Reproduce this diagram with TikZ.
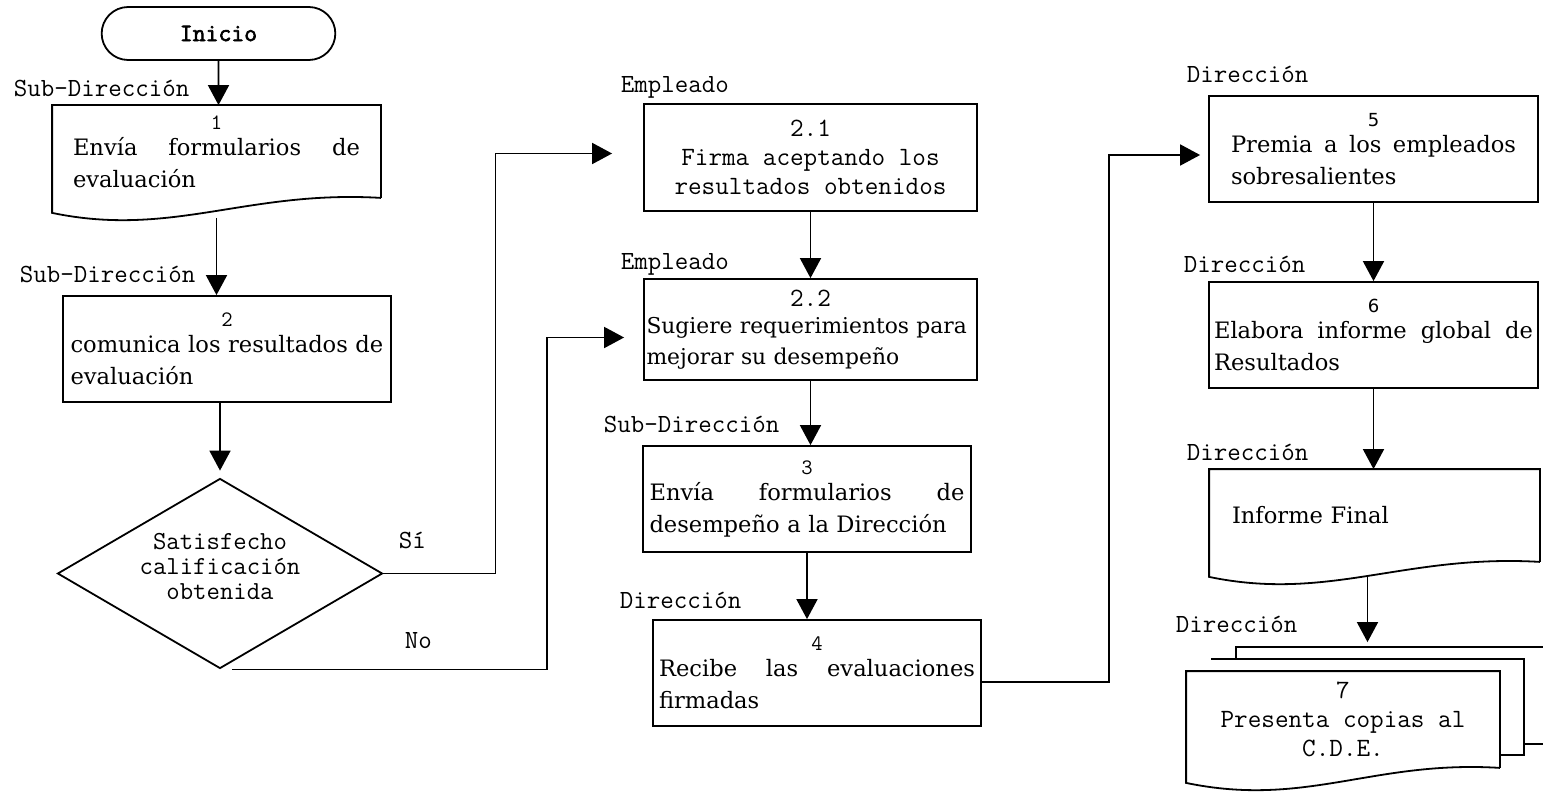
\documentclass[tikz,border=0pt]{standalone}
\usepackage{fontspec}
\setmainfont{DejaVu Serif}
\newfontfamily\sansdig{DejaVu Sans}
\newfontfamily\negrita{Latin Modern Mono}[FakeBold=2.5]
\usetikzlibrary{arrows.meta,shapes.geometric,shapes.misc,calc}

% numero de paso
\newcommand\numpaso{\ttfamily\fontsize{11}{12}\selectfont}
% contorno de documento (borde inferior ondulado)
\newcommand\contornodoc[1]{%
  \draw (#1.south east) -- (#1.north east) -- (#1.north west)
    -- ($(#1.south west)+(0,15)$)
    .. controls ($(#1.south west)+(120,40)$) and ($(#1.south)+(30,-8)$) .. (#1.south east);}

\begin{document}
\begin{tikzpicture}[x=0.5pt,y=-0.5pt,line width=0.9pt,
    caja/.style={draw,rectangle,minimum height=53pt,inner xsep=2pt,align=left,
      font=\fontsize{11.3}{16}\selectfont},
    doc/.style={rectangle,minimum height=45.5pt,inner xsep=2pt,align=left,
      font=\fontsize{11.3}{16}\selectfont},
    mono/.style={font=\ttfamily\fontsize{13.2}{14.5}\selectfont},
    rol/.style={anchor=base west,inner sep=0pt,font=\ttfamily\fontsize{13.1}{14}\selectfont},
    flecha/.style={-{Triangle[length=10pt,width=10.5pt]}}]
\useasboundingbox (0,0) rectangle (1543,792);

% columna 1
\node[draw,rounded rectangle,minimum width=123.5pt,minimum height=26.5pt,
  font=\negrita\fontsize{12.5}{13}\selectfont] (ini) at (218.5,33.5) {Inicio};
\node[doc,minimum width=163.5pt,text width=143.5pt] (b1) at (216.5,151.5)
  {\makebox[\linewidth]{\numpaso 1}\\[-3pt]Envía\hfill formularios\hfill de\\evaluación};
\contornodoc{b1}
\node[caja,minimum width=164pt,text width=156.5pt] (b2) at (227,349)
  {\makebox[\linewidth]{\numpaso 2}\\[-3pt]comunica los resultados de\\evaluación};
\node[draw,diamond,aspect=1.7,minimum width=162.5pt,minimum height=95pt,inner sep=1pt,
  align=center,font=\ttfamily\fontsize{13}{12.5}\selectfont] (dia) at (220,573.5)
  {Satisfecho\\calificación\\obtenida\\[-5.5pt]\mbox{}};
\node[rol] (si) at (398,548) {Sí};
\node[rol] (no) at (404,648) {No};

% columna 2
\node[caja,mono,align=center,minimum width=166.5pt,minimum height=53.5pt] (b21) at (810.5,157.5)
  {2.1\\Firma aceptando los\\resultados obtenidos};
\node[caja,minimum width=166.5pt,minimum height=50.5pt,inner xsep=1pt,text width=164pt,
  font=\fontsize{10.9}{15.5}\selectfont] (b22) at (810.5,329.5)
  {\makebox[\linewidth]{\ttfamily\fontsize{13.2}{14}\selectfont 2.2}\\[-2pt]Sugiere requerimientos para\\mejorar su desempeño};
\node[caja,minimum width=164pt,text width=157.5pt] (b3) at (807,499)
  {\makebox[\linewidth]{\numpaso 3}\\[-3pt]Envía\hfill formularios\hfill de\\desempeño a la Dirección};
\node[caja,minimum width=164pt,text width=158pt] (b4) at (817,673)
  {\makebox[\linewidth]{\numpaso 4}\\[-3pt]Recibe\hfill las\hfill evaluaciones\\firmadas};

% columna 3
\node[caja,minimum width=164.5pt,text width=142.5pt] (b5) at (1373.5,149)
  {\makebox[\linewidth]{\sansdig\fontsize{9}{10}\selectfont 5}\\[-3pt]Premia\hfill a\hfill los\hfill empleados\\sobresalientes};
\node[caja,minimum width=164.5pt,text width=159.5pt] (b6) at (1373.5,335)
  {\makebox[\linewidth]{\sansdig\fontsize{9}{10}\selectfont 6}\\[-3pt]Elabora\hfill informe\hfill global\hfill de\\Resultados};
\node[doc,minimum width=164.5pt,text width=142.5pt] (inf) at (1374.5,515.5) {Informe Final};
\contornodoc{inf}
\node[doc,mono,align=center,minimum width=156pt,minimum height=47.5pt] (fr7) at (1343,719.5)
  {7\\Presenta copias al\\C.D.E.};
\draw ($(fr7.north west)+(50,-12)$) -- ($(fr7.north west)+(50,-24)$)
  -- ($(fr7.north east)+(60,-24)$);
\draw ($(fr7.south east)+(24,-24)$) -- ($(fr7.south east)+(60,-24)$);
\draw ($(fr7.north west)+(25,-12)$) -- ($(fr7.north east)+(24,-12)$)
  -- ($(fr7.south east)+(24,-13)$) -- ($(fr7.south east)+(0,-13)$);
\contornodoc{fr7}

% responsables
\foreach \x/\y/\t [count=\i] in {13/97/Sub-Dirección, 19/282/Sub-Dirección,
    620/93/Empleado, 620/270/Empleado, 603/432/Sub-Dirección, 619/608/Dirección,
    1186/83/Dirección, 1183/272/Dirección, 1186/460/Dirección, 1175/632/Dirección}
  \node[rol] (rol\i) at (\x,\y) {\t};

% conectores
\draw[flecha] (ini) -- (ini |- b1.north);
\draw[flecha] ($(b1.south)+(0,20)$) -- (b1.south |- b2.north);
\draw[flecha] (dia.north |- b2.south) -- ($(dia.north)+(0,-7)$);
\draw[flecha,shorten >=15.5pt] (dia.east) -- ++(112,0) |- ($(b21.west)+(0,-4)$);
\draw[flecha,shorten >=9.5pt] ($(dia.south)+(12,0)$) -- ++(315,0) |- ($(b22.west)+(0,8)$);
\draw[flecha] (b21) -- (b21 |- b22.north);
\draw[flecha] (b22.south) -- (b22.south |- b3.north);
\draw[flecha] (b3.south) -- (b3.south |- b4.north);
\draw[flecha,shorten >=4pt] ($(b4.east)+(0,9)$) -- ++(127,0) |- ($(b5.west)+(0,6)$);
\draw[flecha] (b5) -- (b5 |- b6.north);
\draw[flecha] (b6) -- (b6 |- inf.north);
\draw[flecha] ($(inf.south)+(-7,14)$) -- ($(inf.south |- fr7.north)+(-7,-29)$);
\end{tikzpicture}
\end{document}
